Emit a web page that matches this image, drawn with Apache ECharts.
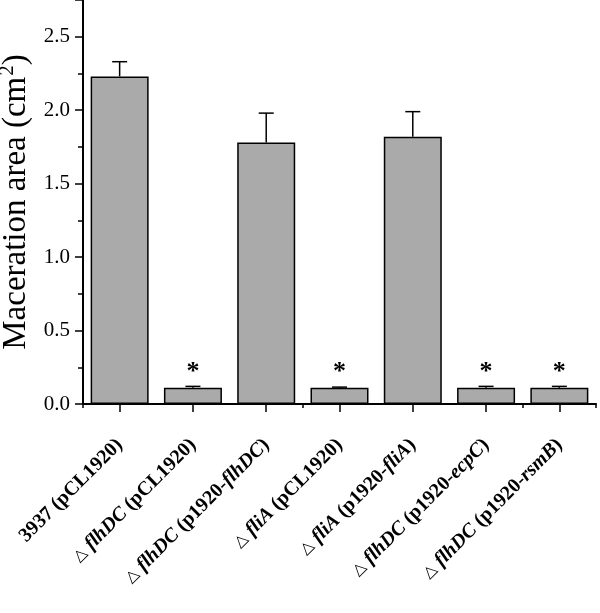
<!DOCTYPE html>
<html>
<head>
<meta charset="utf-8">
<script src="https://cdn.jsdelivr.net/npm/echarts@6/dist/echarts.min.js"></script>
<style>html,body{margin:0;padding:0;background:#fff}#c{width:600px;height:613px}</style>
</head>
<body>
<div id="c"></div>
<script>
// Data
var categories = [
  '3937 (pCL1920)',
  '{d|△ }{i|flhDC} (pCL1920)',
  '{d|△ }{i|flhDC} (p1920-{i|flhDC})',
  '{d|△ }{i|fliA} (pCL1920)',
  '{d|△ }{i|fliA} (p1920-{i|fliA})',
  '{d|△ }{i|flhDC} (p1920-{i|ecpC})',
  '{d|△ }{i|flhDC} (p1920-{i|rsmB})'
];
var means = [2.23, 0.11, 1.78, 0.11, 1.82, 0.11, 0.11];
var errors = [0.10, 0.01, 0.20, 0.005, 0.17, 0.01, 0.01];
var significant = [false, true, false, true, false, true, true];
var yTicks = [0, 0.5, 1.0, 1.5, 2.0, 2.5];

var serif = '"Liberation Serif","Times New Roman",serif';
var chart = echarts.init(document.getElementById('c'), null, {renderer: 'canvas'});
var option = {
  animation: false,
  backgroundColor: '#fff',
  grid: {left: 83, right: 4, top: 0, bottom: 209, containLabel: false, outerBoundsMode: 'none'},
  xAxis: [{
    type: 'category',
    data: categories,
    position: 'bottom',
    axisLine: {show: true, lineStyle: {color: '#000', width: 2}},
    axisTick: {show: true, alignWithLabel: true, length: 8, lineStyle: {color: '#000', width: 1.5}},
    axisLabel: {
      interval: 0, rotate: 45, margin: 38,
      color: '#000', fontFamily: serif, fontSize: 20, fontWeight: 'bold',
      rich: {
        i: {fontFamily: serif, fontSize: 20, fontWeight: 'bold', fontStyle: 'italic', color: '#000'},
        d: {fontFamily: '"DejaVu Sans",sans-serif', fontSize: 16, fontWeight: 'normal', color: '#000'}
      }
    },
    splitLine: {show: false}
  }, {
    type: 'category',
    data: categories,
    position: 'bottom',
    axisLine: {show: false},
    axisTick: {show: true, alignWithLabel: false, length: 4, lineStyle: {color: '#000', width: 1.5}},
    axisLabel: {show: false},
    splitLine: {show: false}
  }],
  yAxis: {
    type: 'value',
    min: 0, max: 2.75, interval: 0.5,
    name: '{a|Maceration area (cm}{s|2}{a|)}',
    nameLocation: 'middle',
    nameGap: 30,
    nameTextStyle: {
      rich: {
        a: {fontFamily: serif, fontSize: 33, color: '#000'},
        s: {fontFamily: serif, fontSize: 21, color: '#000', padding: [0, 0, 18, 1]}
      }
    },
    axisLine: {show: true, lineStyle: {color: '#000', width: 2}},
    axisTick: {show: true, length: 8, lineStyle: {color: '#000', width: 1.5}},
    minorTick: {show: true, splitNumber: 2, length: 5, lineStyle: {color: '#000', width: 1.5}},
    splitLine: {show: false},
    minorSplitLine: {show: false},
    axisLabel: {
      margin: 13, color: '#000', fontFamily: serif, fontSize: 21,
      formatter: function (v) {
        for (var k = 0; k < yTicks.length; k++) if (Math.abs(yTicks[k] - v) < 1e-6) return yTicks[k].toFixed(1);
        return '';
      }
    }
  },
  series: [{
    type: 'bar',
    data: means,
    barWidth: 58,
    itemStyle: {color: '#aaaaaa', borderColor: '#000', borderWidth: 1.5},
    label: {
      show: true, position: 'top', distance: 3,
      fontFamily: serif, fontSize: 26, fontWeight: 'bold', color: '#000',
      formatter: function (p) { return significant[p.dataIndex] ? '*' : ''; }
    },
    z: 2
  }, {
    type: 'custom',
    data: means.map(function (m, i) { return [i, m, errors[i]]; }),
    renderItem: function (params, api) {
      var i = api.value(0), m = api.value(1), e = api.value(2);
      var p0 = api.coord([i, m]);
      var p1 = api.coord([i, m + e]);
      var style = {stroke: '#000', lineWidth: 1.5, fill: null};
      return {
        type: 'group',
        children: [
          {type: 'line', shape: {x1: p0[0], y1: p0[1], x2: p1[0], y2: p1[1]}, style: style},
          {type: 'line', shape: {x1: p1[0] - 7.5, y1: p1[1], x2: p1[0] + 7.5, y2: p1[1]}, style: style}
        ]
      };
    },
    z: 3
  }]
};
chart.setOption(option);
</script>
</body>
</html>
